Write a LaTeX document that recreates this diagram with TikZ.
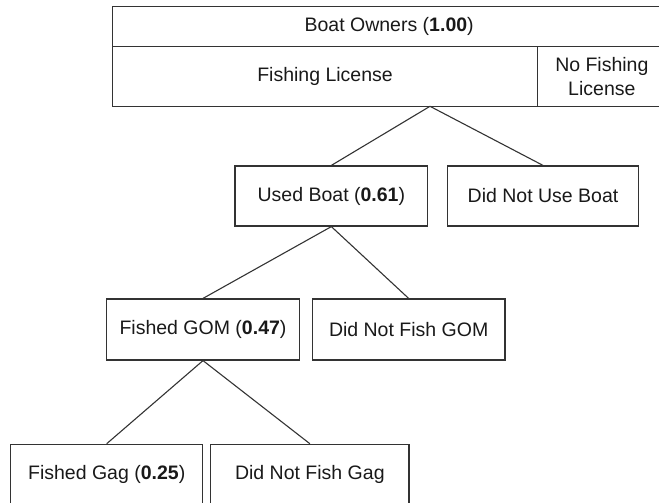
\documentclass[tikz,border=0pt]{standalone}
\usepackage{fontspec}
\setmainfont{Liberation Sans}
\usetikzlibrary{positioning,calc}
\tikzset{
  box/.style={draw=black!80, line width=1.2pt, rectangle, inner sep=0pt, align=center,
    font=\fontsize{19.5}{23.5}\selectfont, text=black!90},
  conn/.style={draw=black!80, line width=1.1pt},
}
\begin{document}
\begin{tikzpicture}[x=1pt,y=-1pt]
\useasboundingbox (0,0) rectangle (659,503);
\clip (0,0) rectangle (659,503);
% top table
\node[box, minimum width=553.7pt, minimum height=40pt] (owners) at ({(112.3+666)/2},{(6.7+46.7)/2}) {Boat Owners (\textbf{1.00})};
\node[box, minimum width=425.4pt, minimum height=59.6pt] (lic) at ({(112.3+537.7)/2},{(46.7+106.3)/2}) {Fishing License};
\node[box, minimum width=128.3pt, minimum height=59.6pt] (nolic) at ({(537.7+666)/2},{(46.7+106.3)/2}) {No Fishing\\License};
\coordinate (apex) at (430,106.3);
% level 1
\node[box, minimum width=192.7pt, minimum height=60pt] (used) at ({(235+427.7)/2},196) {Used Boat (\textbf{0.61})};
\node[box, minimum width=190.6pt, minimum height=60pt] (notused) at ({(447.7+638.3)/2},196) {Did Not Use Boat};
% level 2
\node[box, minimum width=192.6pt, minimum height=61pt] (gom) at ({(106.7+299.3)/2},329.5) {Fished GOM (\textbf{0.47})};
\node[box, minimum width=192.7pt, minimum height=61pt] (nogom) at ({(312.3+505)/2},329.5) {Did Not Fish GOM};
% level 3
\node[box, minimum width=192pt, minimum height=60pt] (gag) at ({(10.7+202.7)/2},474.3) {Fished Gag (\textbf{0.25})};
\node[box, minimum width=198.3pt, minimum height=60pt] (nogag) at ({(210.7+409)/2},474.3) {Did Not Fish Gag};
% connectors
\draw[conn] (apex) -- (used.north);
\draw[conn] (apex) -- (notused.north);
\draw[conn] (used.south) -- (gom.north);
\draw[conn] (used.south) -- (nogom.north);
\draw[conn] (gom.south) -- (gag.north);
\draw[conn] (gom.south) -- (nogag.north);
\end{tikzpicture}
\end{document}
